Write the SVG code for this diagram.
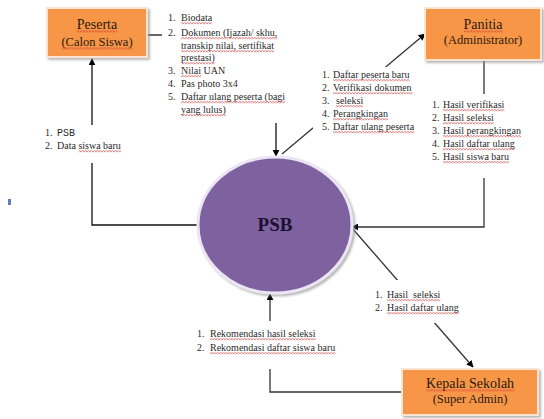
<svg xmlns="http://www.w3.org/2000/svg" width="544" height="419" viewBox="0 0 544 419">
  <defs>
    <marker id="arrow" viewBox="0 0 10 10" refX="9" refY="5" markerWidth="7" markerHeight="7" markerUnits="userSpaceOnUse" orient="auto">
      <path d="M0,0 L10,5 L0,10 z" fill="#000"/>
    </marker>
    <filter id="shadow" x="-10%" y="-10%" width="130%" height="130%">
      <feDropShadow dx="2" dy="2" stdDeviation="1.2" flood-color="#8a8a8a" flood-opacity="0.6"/>
    </filter>
    <!-- red wavy spell-check squiggle -->
    <pattern id="wave" patternUnits="userSpaceOnUse" width="3" height="2">
      <path d="M0,1.6 L1.5,0.4 L3,1.6" fill="none" stroke="#d23a3a" stroke-width="0.8"/>
    </pattern>
    <style>
      .box { fill: #f79646; stroke: #fbe4d2; stroke-width: 2; filter: url(#shadow); }
      .title { font-family: "Liberation Serif", "Times New Roman", serif; font-size: 14px; fill: #2b1a12; text-anchor: middle; }
      .sub { font-family: "Liberation Serif", "Times New Roman", serif; font-size: 12.5px; fill: #2b1a12; text-anchor: middle; }
      .list { font-family: "Liberation Serif", "Times New Roman", serif; font-size: 10px; fill: #2a2a2a; }
      .mono { font-family: "Liberation Mono", "Courier New", monospace; font-size: 10px; }
      .sq { fill: url(#wave); }
      .line { fill: none; stroke: #111; stroke-width: 1.3; }
      .gray { stroke: #333; }
      .mask { fill: #fff; }
    </style>
  </defs>

  <rect width="544" height="419" fill="#fff"/>
  <!-- small stray mark at the left edge -->
  <rect x="8" y="199" width="3" height="6" fill="#5b7fc0"/>

  <!-- connectors -->
  <g id="connectors">
    <!-- PSB to Peserta -->
    <path class="line" d="M198,225 H92 V59" marker-end="url(#arrow)"/>
    <!-- Peserta to PSB -->
    <path class="line" d="M148,35 H162"/>
    <path class="line" d="M276,123 V156" marker-end="url(#arrow)"/>
    <!-- PSB to Panitia -->
    <path class="line gray" d="M282,154 L425,34" marker-end="url(#arrow)"/>
    <!-- Panitia to PSB -->
    <path class="line gray" d="M484,61 V227 H352" marker-end="url(#arrow)"/>
    <!-- PSB to Kepala Sekolah -->
    <path class="line gray" d="M352,228 L473,367" marker-end="url(#arrow)"/>
    <!-- Kepala Sekolah to PSB -->
    <path class="line gray" d="M402,392 H270 V294" marker-end="url(#arrow)"/>
  </g>

  <!-- connector labels -->
  <g id="label-psb-peserta">
    <rect class="mask" x="40" y="125" width="88" height="38"/>
    <g class="list">
      <text><tspan x="45" y="136">1.</tspan><tspan x="57" y="136" class="mono">PSB</tspan></text>
      <text><tspan x="45" y="149">2.</tspan><tspan x="57" y="149">Data siswa baru</tspan></text>
    </g>
    <rect class="sq" x="78.4" y="150.2" width="42.5" height="2"/>
  </g>

  <g id="label-peserta-psb">
    <g class="list">
      <text><tspan x="168" y="21">1.</tspan><tspan x="181" y="21">Biodata</tspan></text>
      <text><tspan x="168" y="36">2.</tspan><tspan x="181" y="36">Dokumen (Ijazah/ skhu,</tspan></text>
      <text x="181" y="49">transkip nilai, sertifikat</text>
      <text x="181" y="61">prestasi)</text>
      <text><tspan x="168" y="74">3.</tspan><tspan x="181" y="74">Nilai UAN</tspan></text>
      <text><tspan x="168" y="87">4.</tspan><tspan x="181" y="87">Pas photo 3x4</tspan></text>
      <text><tspan x="168" y="100">5.</tspan><tspan x="181" y="100">Daftar ulang peserta (bagi</tspan></text>
      <text x="181" y="113">yang lulus)</text>
    </g>
    <rect class="sq" x="181" y="22.2" width="31.1" height="2"/>
    <rect class="sq" x="181" y="37.2" width="96.4" height="2"/>
    <rect class="sq" x="181" y="50.2" width="93" height="2"/>
    <rect class="sq" x="181" y="62.2" width="33.9" height="2"/>
    <rect class="sq" x="181" y="75.2" width="20" height="2"/>
    <rect class="sq" x="181" y="101.2" width="104.1" height="2"/>
    <rect class="sq" x="181" y="114.2" width="44.7" height="2"/>
  </g>

  <g id="label-psb-panitia">
    <rect class="mask" x="313" y="67" width="104" height="67"/>
    <g class="list">
      <text><tspan x="322" y="78">1.</tspan><tspan x="333" y="78">Daftar peserta baru</tspan></text>
      <text><tspan x="322" y="91">2.</tspan><tspan x="333" y="91">Verifikasi dokumen</tspan></text>
      <text><tspan x="322" y="104">3.</tspan><tspan x="336" y="104">seleksi</tspan></text>
      <text><tspan x="322" y="117">4.</tspan><tspan x="333" y="117">Perangkingan</tspan></text>
      <text><tspan x="322" y="130">5.</tspan><tspan x="333" y="130">Daftar ulang peserta</tspan></text>
    </g>
    <rect class="sq" x="333" y="79.2" width="76.6" height="2"/>
    <rect class="sq" x="333" y="92.2" width="79.7" height="2"/>
    <rect class="sq" x="336" y="105.2" width="27.2" height="2"/>
    <rect class="sq" x="333" y="118.2" width="55" height="2"/>
    <rect class="sq" x="333" y="131.2" width="81.1" height="2"/>
  </g>

  <g id="label-panitia-psb">
    <rect class="mask" x="428" y="94" width="108" height="84"/>
    <g class="list">
      <text><tspan x="432" y="108">1.</tspan><tspan x="443" y="108">Hasil verifikasi</tspan></text>
      <text><tspan x="432" y="121">2.</tspan><tspan x="443" y="121">Hasil seleksi</tspan></text>
      <text><tspan x="432" y="134">3.</tspan><tspan x="443" y="134">Hasil perangkingan</tspan></text>
      <text><tspan x="432" y="147">4.</tspan><tspan x="443" y="147">Hasil daftar ulang</tspan></text>
      <text><tspan x="432" y="160">5.</tspan><tspan x="443" y="160">Hasil siswa baru</tspan></text>
    </g>
    <rect class="sq" x="443" y="109.2" width="61.4" height="2"/>
    <rect class="sq" x="443" y="122.2" width="50.8" height="2"/>
    <rect class="sq" x="443" y="135.2" width="78" height="2"/>
    <rect class="sq" x="443" y="148.2" width="71.7" height="2"/>
    <rect class="sq" x="443" y="161.2" width="66.1" height="2"/>
  </g>

  <g id="label-psb-kepala">
    <rect class="mask" x="368" y="280" width="102" height="43"/>
    <g class="list">
      <text><tspan x="375" y="298">1.</tspan><tspan x="387" y="298">Hasil&#160; seleksi</tspan></text>
      <text><tspan x="375" y="311">2.</tspan><tspan x="387" y="311">Hasil daftar ulang</tspan></text>
    </g>
    <rect class="sq" x="387" y="299.2" width="53.3" height="2"/>
    <rect class="sq" x="387" y="312.2" width="71.7" height="2"/>
  </g>

  <g id="label-kepala-psb">
    <rect class="mask" x="193" y="321" width="152" height="48"/>
    <g class="list">
      <text><tspan x="197" y="337">1.</tspan><tspan x="210" y="337">Rekomendasi hasil seleksi</tspan></text>
      <text><tspan x="197" y="351">2.</tspan><tspan x="210" y="351">Rekomendasi daftar siswa baru</tspan></text>
    </g>
    <rect class="sq" x="210" y="338.2" width="105.6" height="2"/>
    <rect class="sq" x="210" y="352.2" width="125.3" height="2"/>
  </g>

  <!-- nodes -->
  <g id="node-psb">
    <ellipse cx="275" cy="225" rx="77" ry="68" fill="#7e62a0" stroke="#ece6f4" stroke-width="3" filter="url(#shadow)"/>
    <text x="275" y="231" text-anchor="middle" font-family="'Liberation Serif', 'Times New Roman', serif" font-size="19" font-weight="bold" fill="#1a1030">PSB</text>
  </g>

  <g id="node-peserta">
    <rect class="box" x="47" y="8" width="100" height="49"/>
    <text class="title" x="97" y="29">Peserta</text>
    <text class="sub" x="97" y="46">(Calon Siswa)</text>
    <rect class="sq" x="76.8" y="30.4" width="40.4" height="2"/>
    <rect class="sq" x="61.4" y="47.4" width="71.2" height="2"/>
  </g>

  <g id="node-panitia">
    <rect class="box" x="425" y="8" width="116" height="52"/>
    <text class="title" x="483" y="29">Panitia</text>
    <text class="sub" x="483" y="44">(Administrator)</text>
    <rect class="sq" x="463.5" y="30.4" width="38.9" height="2"/>
  </g>

  <g id="node-kepala">
    <rect class="box" x="402" y="369" width="136" height="46"/>
    <text class="title" x="470" y="388">Kepala Sekolah</text>
    <text class="sub" x="470" y="403">(Super Admin)</text>
    <rect class="sq" x="425.9" y="389.4" width="88.3" height="2"/>
  </g>
</svg>
